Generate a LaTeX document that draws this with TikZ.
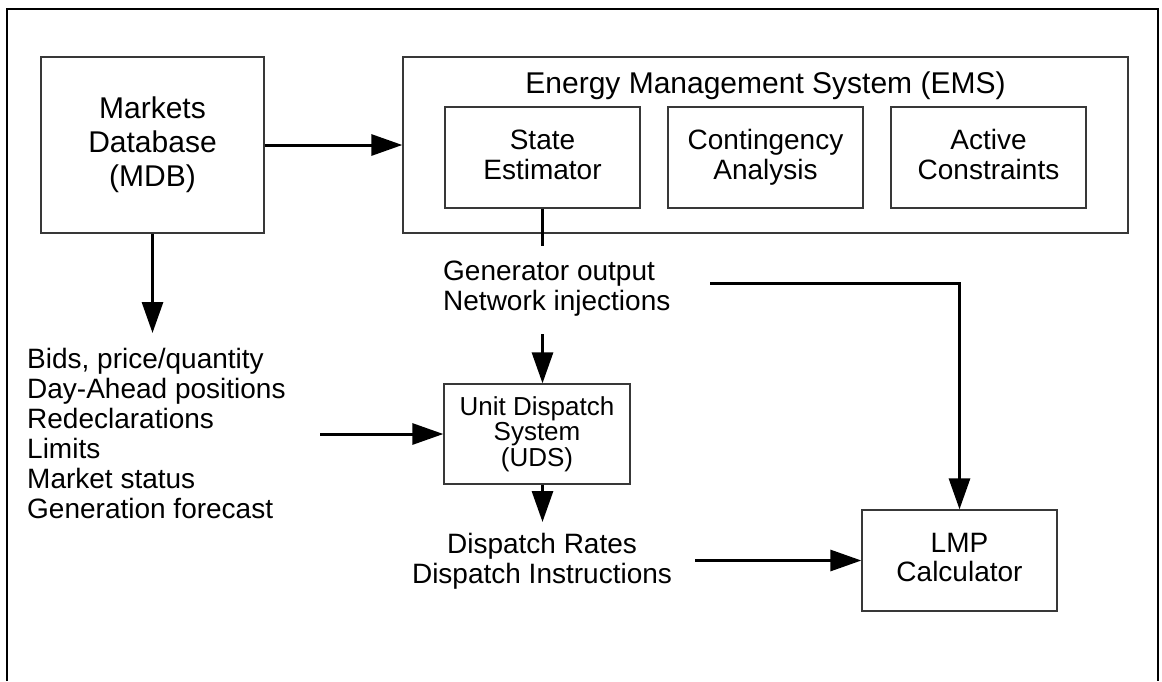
\documentclass[tikz,border=0pt]{standalone}
\usepackage{fontspec}
\setmainfont{Liberation Sans}
\usetikzlibrary{arrows.meta}

\begin{document}
\begin{tikzpicture}[x=1pt, y=-1pt,
  box/.style={draw=black!78, line width=1.3pt, rectangle, inner sep=0pt,
    align=center, font=\fontsize{28}{29.5}\selectfont},
  subbox/.style={box, minimum width=195pt, minimum height=101pt},
  lbl/.style={inner sep=0pt, font=\fontsize{28}{30}\selectfont},
  flow/.style={line width=3pt, -{Triangle[length=31pt, width=21pt]}},
  feed/.style={line width=3pt}]

\useasboundingbox (0,0) rectangle (1162,681);

% outer frame, open at the bottom edge of the page
\draw[line width=1.3pt] (7,681) -- (7,9) -- (1158,9) -- (1158,681);

% main blocks
\node[box, minimum width=223pt, minimum height=176pt,
      font=\fontsize{30}{34}\selectfont] (mdb) at (152.5,145)
      {Markets\\Database\\(MDB)};
\node[box, minimum width=725pt, minimum height=176pt] (ems) at (765.5,145) {};
\node[anchor=base, inner sep=0pt, font=\fontsize{30}{34}\selectfont]
      (emstitle) at (765.5,93) {Energy Management System (EMS)};
\node[subbox] (se) at (542.5,157.5) {State\\Estimator\vphantom{y}};
\node[subbox] (ca) at (765.5,157.5) {Contingency\\Analysis\vphantom{y}};
\node[subbox] (ac) at (988.5,157.5) {Active\\Constraints\vphantom{y}};
\node[box, minimum width=186pt, minimum height=100pt,
      font=\fontsize{26}{25.5}\selectfont] (uds) at (537,434)
      {Unit Dispatch\\System\\(UDS)};
\node[subbox] (lmp) at (959.5,560.5) {LMP\\Calculator\vphantom{y}};

% data labels
\node[lbl, anchor=north west, align=left] (mkt) at (27,347.7)
  {Bids, price/quantity\\Day-Ahead positions\\Redeclarations\\Limits\\Market status\\Generation forecast};
\node[lbl, anchor=north west, align=left] (gen) at (443,261)
  {Generator output\\Network injections};
\node[lbl, anchor=north, align=center] (disp) at (542,533)
  {Dispatch Rates\\Dispatch Instructions};

% free ends of the connectors
\coordinate (mktin)   at (152.5,333);
\coordinate (seout)   at (542.5,246);
\coordinate (genin)   at (542.5,334);
\coordinate (mktout)  at (320,434);
\coordinate (dispin)  at (542.5,522);
\coordinate (genout)  at (710,283);
\coordinate (dispout) at (695,560.5);

% connectors
\draw[flow] (mdb.east) -- (ems.west);
\draw[flow] (mdb.south) -- (mktin);
\draw[feed] (se.south) -- (seout);
\draw[flow] (genin) -- (genin |- uds.north);
\draw[flow] (mktout) -- (uds.west);
\draw[flow] (genin |- uds.south) -- (dispin);
\draw[flow] (genout) -| (lmp.north);
\draw[flow] (dispout) -- (lmp.west);

\end{tikzpicture}
\end{document}
